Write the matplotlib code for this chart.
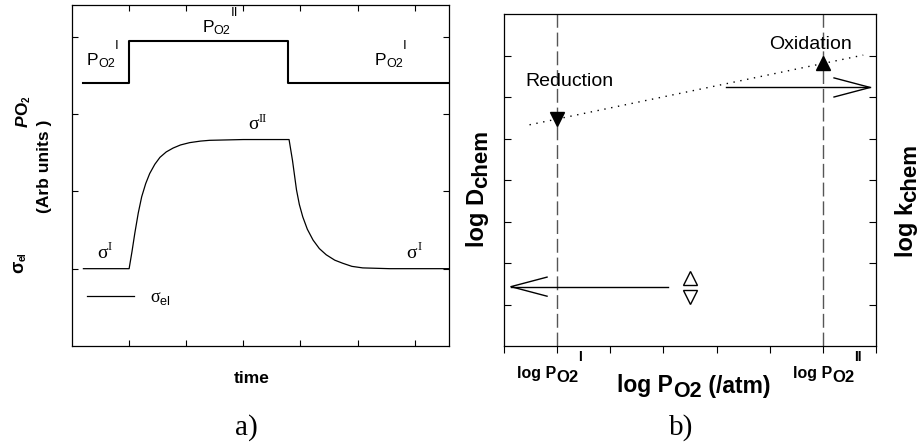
"""
Two-panel sketch: a) PO2 switching and conductivity relaxation,
b) log Dchem / log kchem versus log PO2.
"""

import matplotlib.pyplot as plt

plt.rcParams['font.family'] = ['Liberation Sans', 'DejaVu Sans']
plt.rcParams['mathtext.fontset'] = 'custom'
plt.rcParams['mathtext.rm'] = 'Liberation Serif'
plt.rcParams['mathtext.sf'] = 'Liberation Sans'

# ---------------------------------------------------------------------------
# Panel a: oxygen partial pressure step and conductivity response
# ---------------------------------------------------------------------------
step_time = [0.2, 1.0, 3.79, 6.6]
step_po2 = [3.40, 3.95, 3.40, 3.40]

sigma_time = [0.20, 1.00, 1.05, 1.10, 1.16, 1.22, 1.29, 1.36, 1.45, 1.54,
              1.65, 1.77, 1.90, 2.06, 2.25, 2.41, 3.00, 3.80,
              3.86, 3.93, 3.98, 4.04, 4.12, 4.22, 4.33, 4.45, 4.60, 4.74,
              4.90, 5.09, 5.56, 6.60]
sigma_val = [1.00, 1.00, 1.22, 1.46, 1.72, 1.93, 2.10, 2.23, 2.35, 2.44,
             2.51, 2.56, 2.60, 2.63, 2.65, 2.66, 2.67, 2.67,
             2.40, 2.02, 1.83, 1.67, 1.51, 1.37, 1.26, 1.18, 1.11, 1.07,
             1.03, 1.01, 1.00, 1.00]

# ---------------------------------------------------------------------------
# Panel b: log D vs log PO2
# ---------------------------------------------------------------------------
fit_logp = [0.48, 6.76]
fit_logd = [5.33, 7.01]
po2_marks = [1.0, 6.0]                 # log PO2(I), log PO2(II)
reduction_pt = (1.0, 5.47)
oxidation_pt = (6.0, 6.81)
k_arrow = ([4.17, 6.89], 6.23)         # shaft x-range, y  -> right axis
d_arrow = ([3.08, 0.13], 1.43)         # shaft x-range, y  -> left axis
key_x = 3.5
key_up, key_down = 1.65, 1.17

W, H = 923, 445
DESC = 0.21

SANS = dict(family=['Liberation Sans', 'DejaVu Sans'])
BOLD = dict(SANS, fontweight='bold')
BOLD_IT = dict(SANS, fontweight='bold', fontstyle='italic')
SERIF = dict(family=['Liberation Serif', 'DejaVu Serif'])


def fpx(x, y):
    """Pixel position -> figure fraction."""
    return x / W, 1 - y / H


def rich(ax, x, y, parts, transform, rotation=0):
    """Draw text pieces one after another on a common baseline.

    parts: (text, size, rise_pts, props); rise moves a piece off the baseline.
    """
    text, size, rise, props = parts[0]
    prev = ax.text(x, y, text, fontsize=size, rotation=rotation,
                   rotation_mode='anchor', ha='left', va='baseline',
                   transform=transform, **props)
    prev_size, prev_rise = size, rise
    for text, size, rise, props in parts[1:]:
        lift = DESC * prev_size + rise - prev_rise
        if rotation:
            xy, off = (1, 1), (-lift, 0)
        else:
            xy, off = (1, 0), (0, lift)
        prev = ax.annotate(text, xy=xy, xycoords=prev, xytext=off,
                           textcoords='offset points', fontsize=size,
                           rotation=rotation, rotation_mode='anchor',
                           ha='left', va='baseline', **props)
        prev_size, prev_rise = size, rise
    return prev


fig = plt.figure(figsize=(W / 100, H / 100), dpi=100)
ax_a = fig.add_axes([72 / W, 1 - 346 / H, 377 / W, 341 / H])
ax_b = fig.add_axes([504 / W, 1 - 346 / H, 372 / W, 332 / H])

for ax in (ax_a, ax_b):
    for sp in ax.spines.values():
        sp.set_linewidth(0.9)

# ---- panel a ---------------------------------------------------------------
ax_a.plot(step_time, step_po2, drawstyle='steps-post', color='black', lw=1.5)
sig_line, = ax_a.plot(sigma_time, sigma_val, color='black', lw=0.9)

ax_a.set_xlim(0, 6.6)
ax_a.set_ylim(0, 4.41)
ax_a.set_xticks(range(1, 7))
ax_a.set_yticks(range(1, 5))
ax_a.tick_params(direction='in', top=True, right=True, length=4, width=0.8,
                 labelbottom=False, labelleft=False)

p_one = [("P", 12.5, 0, SANS), ("O2", 9, -2, SANS), ("I", 9.5, 11.5, SANS)]
p_two = [("P", 12.5, 0, SANS), ("O2", 9, -2, SANS), ("II", 9.5, 11.5, SANS)]
rich(ax_a, 0.26, 3.63, p_one, ax_a.transData)
rich(ax_a, 2.28, 4.06, p_two, ax_a.transData)
rich(ax_a, 5.30, 3.63, p_one, ax_a.transData)

s_one = [("σ", 14, 0, SERIF), ("I", 9, 5.5, SERIF)]
s_two = [("σ", 14, 0, SERIF), ("II", 9, 5.5, SERIF)]
rich(ax_a, 3.08, 2.80, s_two, ax_a.transData)
rich(ax_a, 0.44, 1.14, s_one, ax_a.transData)
rich(ax_a, 5.86, 1.14, s_one, ax_a.transData)

ax_a.legend([sig_line], [r'$\mathrm{\sigma}_{\mathsf{el}}$'],
            loc='center left', bbox_to_anchor=(0.04, 0.141), frameon=False,
            fontsize=13, handlelength=2.6, handletextpad=0.9,
            borderpad=0, borderaxespad=0)

# ---- panel b ---------------------------------------------------------------
for xv in po2_marks:
    ax_b.axvline(xv, color='#555555', lw=1, dashes=(10, 3.5))

ax_b.plot(fit_logp, fit_logd, color='black', lw=1, linestyle=(0, (1, 4)))
ax_b.plot(*reduction_pt, marker='v', color='black', ms=10)
ax_b.plot(*oxidation_pt, marker='^', color='black', ms=10)

head_len, head_w = 0.68, 0.23
for (xs, yv) in (k_arrow, d_arrow):
    tip = xs[1]
    back = tip - head_len if tip > xs[0] else tip + head_len
    ax_b.plot(xs, [yv, yv], color='black', lw=1)
    ax_b.plot([back, tip, back], [yv + head_w, yv, yv - head_w],
              color='black', lw=1)

ax_b.plot(key_x, key_up, marker='^', mfc='white', mec='black', ms=10, mew=1)
ax_b.plot(key_x, key_down, marker='v', mfc='white', mec='black', ms=10, mew=1)

ax_b.set_xlim(0, 7)
ax_b.set_ylim(0, 8)
ax_b.set_xticks(range(0, 8))
ax_b.set_yticks(range(1, 8))
ax_b.tick_params(axis='x', direction='out', length=5, width=0.8,
                 labelbottom=False)
ax_b.tick_params(axis='y', direction='in', left=True, right=True, length=5,
                 width=0.8, labelleft=False)

ax_b.text(0.40, 6.27, "Reduction", fontsize=14, ha='left', va='baseline')
ax_b.text(4.99, 7.16, "Oxidation", fontsize=14, ha='left', va='baseline')

# ---- axis titles -------------------------------------------------------------
tf = fig.transFigure
rich(ax_a, *fpx(28, 127), [("P", 12.5, 0, BOLD_IT), ("O", 12.5, 0, BOLD),
                           ("2", 7, -2, BOLD)], tf, rotation=90)
rich(ax_a, *fpx(49, 213), [("(Arb units )", 12.5, 0, BOLD)], tf, rotation=90)
rich(ax_a, *fpx(23, 273), [("σ", 13, 0, BOLD), ("el", 7.5, -2, BOLD)], tf,
     rotation=90)
rich(ax_a, *fpx(234, 383), [("time", 12.5, 0, BOLD)], tf)

rich(ax_b, *fpx(484, 247), [("log D", 17, 0, BOLD), ("chem", 16, -2.5, BOLD)],
     tf, rotation=90)
rich(ax_b, *fpx(913, 257), [("log k", 17, 0, BOLD), ("chem", 16, -2.5, BOLD)],
     tf, rotation=90)
rich(ax_b, *fpx(617, 392), [("log P", 16.5, 0, BOLD), ("O2", 15.5, -3.5, BOLD),
                            (" (/atm)", 16.5, 0, BOLD)], tf)
rich(ax_b, *fpx(517, 378), [("log P", 11.5, 0, BOLD), ("O2", 12, -3, BOLD),
                            ("I", 10, 11.5, BOLD)], tf)
rich(ax_b, *fpx(793, 378), [("log P", 11.5, 0, BOLD), ("O2", 12, -3, BOLD),
                            ("II", 10, 11.5, BOLD)], tf)

rich(ax_a, *fpx(235, 435), [("a)", 21, 0, SERIF)], tf)
rich(ax_b, *fpx(669, 435), [("b)", 21, 0, SERIF)], tf)

fig.savefig('out.png', dpi=100)
